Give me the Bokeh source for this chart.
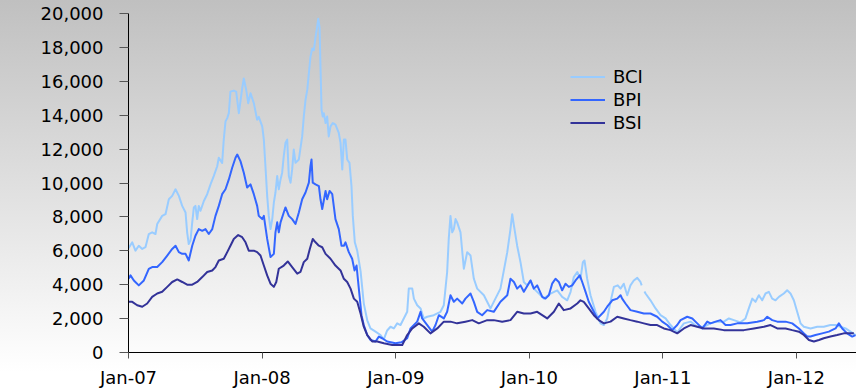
import numpy as np
import pandas as pd
from bokeh.plotting import figure
from bokeh.models import (Range1d, FixedTicker, NumeralTickFormatter, DatetimeTickFormatter,
                          Legend, LegendItem, ColumnDataSource)
from bokeh.embed import file_html
from bokeh.resources import INLINE

# ---------------- data ----------------
series_names = ["BCI", "BPI", "BSI"]

# time as decimal years
bci_year = [2007.000, 2007.028, 2007.052, 2007.077, 2007.103, 2007.127, 2007.152, 2007.177, 2007.202, 2007.215,
            2007.252, 2007.277, 2007.302, 2007.327, 2007.352, 2007.377, 2007.402, 2007.427, 2007.439, 2007.451,
            2007.464, 2007.477, 2007.489, 2007.501, 2007.514, 2007.526, 2007.539, 2007.564, 2007.589, 2007.614,
            2007.638, 2007.664, 2007.676, 2007.701, 2007.713, 2007.726, 2007.739, 2007.751, 2007.763, 2007.788,
            2007.806, 2007.826, 2007.851, 2007.863, 2007.881, 2007.896, 2007.913, 2007.938, 2007.963, 2007.975,
            2008.001, 2008.013, 2008.025, 2008.038, 2008.050, 2008.063, 2008.076, 2008.088, 2008.100, 2008.113,
            2008.125, 2008.138, 2008.150, 2008.162, 2008.175, 2008.188, 2008.200, 2008.213, 2008.225, 2008.237,
            2008.250, 2008.275, 2008.300, 2008.312, 2008.325, 2008.338, 2008.350, 2008.362, 2008.375, 2008.387,
            2008.400, 2008.412, 2008.420, 2008.430, 2008.437, 2008.445, 2008.454, 2008.462, 2008.475, 2008.487,
            2008.499, 2008.512, 2008.529, 2008.549, 2008.574, 2008.587, 2008.600, 2008.612, 2008.624, 2008.637,
            2008.654, 2008.669, 2008.679, 2008.694, 2008.712, 2008.737, 2008.761, 2008.787, 2008.811, 2008.849,
            2008.886, 2008.911, 2008.936, 2008.961, 2008.986, 2009.011, 2009.036, 2009.086, 2009.098, 2009.124,
            2009.136, 2009.161, 2009.186, 2009.210, 2009.236, 2009.285, 2009.335, 2009.360, 2009.385, 2009.397,
            2009.410, 2009.423, 2009.435, 2009.448, 2009.460, 2009.485, 2009.510, 2009.535, 2009.560, 2009.585,
            2009.610, 2009.660, 2009.710, 2009.734, 2009.784, 2009.835, 2009.859, 2009.872, 2009.885, 2009.909,
            2009.934, 2009.959, 2009.984, 2010.009, 2010.034, 2010.072, 2010.109, 2010.159, 2010.209, 2010.246,
            2010.284, 2010.309, 2010.333, 2010.359, 2010.383, 2010.401, 2010.413, 2010.433, 2010.458, 2010.496,
            2010.533, 2010.558, 2010.583, 2010.608, 2010.633, 2010.662, 2010.683, 2010.707, 2010.733, 2010.757,
            2010.782, 2010.808, 2010.832, 2010.841, 2010.851, 2010.862, 2010.870, 2010.907, 2010.945, 2010.982,
            2011.020, 2011.057,
            2011.107, 2011.157, 2011.207, 2011.257, 2011.306, 2011.356, 2011.406, 2011.456, 2011.494, 2011.531,
            2011.581, 2011.618, 2011.643, 2011.669, 2011.693, 2011.718, 2011.743, 2011.768, 2011.793, 2011.818,
            2011.843, 2011.868, 2011.905, 2011.930, 2011.955, 2011.980, 2012.005, 2012.030, 2012.055, 2012.105,
            2012.155, 2012.204, 2012.254, 2012.292, 2012.329, 2012.367, 2012.404, 2012.442]
bci_value = [6150, 6500, 6010, 6300, 6110, 6210, 6990, 7090, 6990, 7580,
             8060, 8160, 9040, 9240, 9630, 9240, 8650, 8260, 7090, 6400,
             6600, 7680, 8560, 8650, 7870, 8650, 8360, 8940, 9340, 9920,
             10410, 10990, 11490, 11190, 12560, 13630, 13830, 14120, 15390, 15450,
             15390, 14120, 15590, 16170, 15490, 14710, 15300, 14710, 13730, 13900,
             13340, 12560, 10990, 9240, 8060, 7280, 7870, 8850, 9440, 10410,
             9630, 10210, 10610, 11580, 12370, 12560, 10410, 10020, 10800, 11970,
             11190, 11390, 12750, 13920, 14900, 15490, 16470, 17440, 17930, 17830,
             18610, 19200, 19690, 19200, 16850, 14320, 13920, 14120, 13540, 13920,
             12750, 13340, 13540, 13440, 12950, 12370, 10800, 12560, 12560, 11390,
             11190, 9820, 8060, 6500, 6000, 4800, 2900, 1900, 1420, 1230,
             1030, 780, 1300, 1520, 1420, 1720, 1620, 2400, 3770, 3770,
             3180, 2790, 2600, 2010, 2110, 2200, 2400, 2790, 4750, 6700,
             8060, 7090, 7280, 7870, 7680, 7090, 4940, 5920, 5720, 4350,
             3770, 3380, 2600, 2990, 3770, 5920, 7280, 8160, 7480, 6300,
             5330, 4160, 3960, 4250, 3770, 3475, 3180, 3475, 3670, 3280,
             3080, 3580, 4450, 4750, 4350, 5330, 5430, 4350, 3380, 2400,
             1720, 1620, 2010, 2990, 3870, 3960, 3770, 4060, 3380, 3960,
             4250, 4400, 4160, 3960, float("nan"), 3600, 3480, 3080, 2600, 2200,
             2010, 1620,
             1180, 1720, 1820, 1520, 1520, 1720, 1820, 1820, 2010, 1910,
             1780, 2010, 2600, 3180, 2990, 3380, 3080, 3480, 3580, 3180,
             3080, 3280, 3480, 3670, 3480, 3080, 2400, 1720, 1520, 1420,
             1520, 1520, 1620, 1620, 1520, 1420, 1230, 1030]

bpi_year = [2007.000, 2007.015, 2007.040, 2007.077, 2007.115, 2007.152, 2007.177, 2007.215, 2007.252, 2007.290,
            2007.327, 2007.352, 2007.377, 2007.402, 2007.427, 2007.451, 2007.477, 2007.501, 2007.526, 2007.552,
            2007.576, 2007.601, 2007.627, 2007.651, 2007.676, 2007.701, 2007.726, 2007.751, 2007.776, 2007.801,
            2007.814, 2007.838, 2007.863, 2007.888, 2007.913, 2007.938, 2007.963, 2007.975, 2008.001, 2008.013,
            2008.038, 2008.063, 2008.088, 2008.100, 2008.113, 2008.125, 2008.138, 2008.162, 2008.175, 2008.200,
            2008.225, 2008.250, 2008.275, 2008.300, 2008.325, 2008.350, 2008.362, 2008.370, 2008.379, 2008.400,
            2008.425, 2008.437, 2008.450, 2008.475, 2008.487, 2008.505, 2008.525, 2008.549, 2008.574, 2008.594,
            2008.612, 2008.624, 2008.649, 2008.674, 2008.692, 2008.707, 2008.724, 2008.744, 2008.761, 2008.787,
            2008.811, 2008.849, 2008.874, 2008.899, 2008.936, 2008.998, 2009.043, 2009.086, 2009.111, 2009.161,
            2009.186, 2009.198, 2009.236, 2009.273, 2009.298, 2009.323, 2009.360, 2009.385, 2009.410, 2009.435,
            2009.460, 2009.498, 2009.522, 2009.560, 2009.585, 2009.610, 2009.647, 2009.685, 2009.734, 2009.784,
            2009.835, 2009.859, 2009.885, 2009.909, 2009.934, 2009.959, 2010.009, 2010.034, 2010.059, 2010.097,
            2010.121, 2010.146, 2010.171, 2010.196, 2010.221, 2010.246, 2010.271, 2010.296, 2010.321, 2010.346,
            2010.378, 2010.396, 2010.421, 2010.445, 2010.483, 2010.508, 2010.533, 2010.558, 2010.583, 2010.621,
            2010.658, 2010.683, 2010.695, 2010.720, 2010.757, 2010.808, 2010.857, 2010.907, 2010.957, 2010.995,
            2011.032, 2011.070, 2011.107, 2011.132, 2011.182, 2011.220, 2011.257, 2011.295, 2011.332, 2011.356,
            2011.394, 2011.431, 2011.469, 2011.506, 2011.556, 2011.631, 2011.706, 2011.756, 2011.781, 2011.818,
            2011.856, 2011.918, 2011.968, 2012.018, 2012.055, 2012.080, 2012.105, 2012.142, 2012.192, 2012.242,
            2012.292, 2012.317, 2012.342, 2012.379, 2012.417, 2012.442]
bpi_value = [4350, 4550, 4250, 3960, 4250, 4940, 5040, 5040, 5330, 5720,
             6110, 6300, 5920, 5820, 5820, 5430, 6300, 6890, 7280, 7180,
             7280, 6990, 7280, 8060, 8650, 9340, 9630, 10210, 10900, 11490,
             11680, 11290, 10610, 9730, 9920, 9340, 8650, 8060, 7870, 8060,
             6700, 5630, 5820, 7090, 7680, 7090, 7680, 8260, 8560, 8060,
             7870, 7580, 8260, 9040, 9440, 10020, 10990, 11390, 10020, 9920,
             9820, 9040, 8460, 9530, 9040, 9530, 9340, 7870, 7280, 6300,
             6300, 6500, 5920, 5530, 4840, 5130, 3770, 2200, 1620, 1030,
             740, 650, 940, 840, 650, 545, 600, 840, 1420, 1820,
             2400, 2010, 1620, 1230, 1620, 2200, 2010, 2400, 3380, 2990,
             3180, 2890, 3180, 3480, 2990, 2400, 2200, 2500, 2400, 2990,
             3380, 4350, 4160, 3770, 3960, 3580, 4250, 3770, 3960, 3280,
             3180, 3380, 4060, 4350, 4160, 3670, 4060, 3870, 3960, 4250,
             4550, 4160, 3580, 2990, 2400, 2010, 2200, 2400, 2700, 3080,
             3180, 3380, 3180, 2890, 2500, 2400, 2300, 2300, 2110, 1820,
             1620, 1320, 1620, 1910, 2110, 2010, 1720, 1420, 1820, 1720,
             1820, 1910, 1620, 1620, 1720, 1720, 1820, 1910, 2110, 1910,
             1820, 1820, 1720, 1420, 1130, 940, 940, 1030, 1130, 1230,
             1420, 1720, 1420, 1130, 940, 1030]

bsi_year = [2007.000, 2007.028, 2007.065, 2007.103, 2007.140, 2007.177, 2007.215, 2007.252, 2007.290, 2007.327,
            2007.365, 2007.402, 2007.439, 2007.477, 2007.514, 2007.552, 2007.589, 2007.627, 2007.651, 2007.676,
            2007.713, 2007.739, 2007.763, 2007.788, 2007.821, 2007.851, 2007.876, 2007.900, 2007.938, 2007.963,
            2007.988, 2008.013, 2008.038, 2008.063, 2008.088, 2008.106, 2008.125, 2008.162, 2008.192, 2008.225,
            2008.263, 2008.287, 2008.312, 2008.338, 2008.357, 2008.379, 2008.400, 2008.425, 2008.450, 2008.475,
            2008.512, 2008.549, 2008.587, 2008.612, 2008.637, 2008.662, 2008.687, 2008.712, 2008.737, 2008.761,
            2008.787, 2008.824, 2008.862, 2008.911, 2008.974, 2009.023, 2009.049, 2009.086, 2009.124, 2009.173,
            2009.210, 2009.260, 2009.311, 2009.360, 2009.410, 2009.460, 2009.522, 2009.573, 2009.622, 2009.685,
            2009.734, 2009.797, 2009.859, 2009.909, 2009.959, 2010.009, 2010.059, 2010.134, 2010.184, 2010.221,
            2010.258, 2010.309, 2010.359, 2010.383, 2010.408, 2010.445, 2010.483, 2010.520, 2010.558, 2010.608,
            2010.658, 2010.707, 2010.757, 2010.808, 2010.857, 2010.907, 2010.957, 2011.007, 2011.057, 2011.107,
            2011.157, 2011.207, 2011.257, 2011.306, 2011.381, 2011.456, 2011.531, 2011.606, 2011.681, 2011.756,
            2011.806, 2011.856, 2011.918, 2011.968, 2012.018, 2012.055, 2012.093, 2012.130, 2012.168, 2012.204,
            2012.254, 2012.304, 2012.354, 2012.392, 2012.429]
bsi_value = [2990, 2990, 2790, 2700, 2890, 3280, 3480, 3580, 3870, 4160,
             4310, 4160, 4000, 4000, 4160, 4450, 4750, 4840, 5040, 5430,
             5530, 5920, 6300, 6700, 6930, 6800, 6500, 6010, 6010, 5920,
             5720, 5130, 4550, 4060, 3870, 4160, 4940, 5130, 5370, 5040,
             4650, 4750, 5330, 5530, 6110, 6700, 6500, 6300, 6210, 5820,
             5530, 5130, 4840, 4350, 4160, 3770, 3180, 2990, 2300, 1520,
             1030, 650, 650, 545, 445, 445, 445, 1030, 1420, 1720,
             1520, 1130, 1420, 1820, 1820, 1720, 1820, 1910, 1720, 1910,
             1910, 1820, 1910, 2400, 2300, 2300, 2400, 2010, 2400, 2890,
             2500, 2600, 2890, 3080, 2990, 2600, 2200, 1910, 1720, 1820,
             2110, 2010, 1910, 1820, 1720, 1620, 1620, 1420, 1320, 1130,
             1420, 1620, 1520, 1420, 1420, 1320, 1320, 1320, 1420, 1520,
             1620, 1420, 1420, 1320, 1230, 1030, 740, 650, 740, 840,
             940, 1030, 1130, 1130, 1130]

y_ticks = [0, 2000, 4000, 6000, 8000, 10000, 12000, 14000, 16000, 18000, 20000]
x_tick_years = [2007, 2008, 2009, 2010, 2011, 2012]
x_start_year = 2007.0
x_end_year = 2012.449

# ---------------- helpers ----------------
BASE = pd.Timestamp("2007-01-01")


def to_dt(years):
    yrs = np.asarray(years, dtype=float)
    return BASE + pd.to_timedelta((yrs - 2007.0) * 365.25, unit="D")


def to_ms(ts):
    return ts.value // 10**6


colors = {"BCI": "#99ccff", "BPI": "#3366ff", "BSI": "#333399"}
FONT = "DejaVu Sans"
FONT_SIZE = "18px"

x_range = Range1d(start=to_ms(to_dt([x_start_year])[0]), end=to_ms(to_dt([x_end_year])[0]))
y_range = Range1d(start=y_ticks[0], end=y_ticks[-1])

p = figure(width=856, height=390, x_axis_type="datetime", output_backend="svg",
           toolbar_location=None, x_range=x_range, y_range=y_range,
           min_border_left=128, min_border_right=0, min_border_top=13, min_border_bottom=36)
p.background_fill_alpha = 0
p.border_fill_alpha = 0
p.outline_line_color = None
p.xgrid.visible = False
p.ygrid.visible = False
p.styles = {"background": "linear-gradient(to bottom, #c0c0c0 0px, #ffffff 372px, #ffffff 390px)"}

renderers = {}
for name, yrs, vals in [("BCI", bci_year, bci_value), ("BPI", bpi_year, bpi_value), ("BSI", bsi_year, bsi_value)]:
    src = ColumnDataSource(dict(x=to_dt(yrs), y=np.asarray(vals, dtype=float)))
    renderers[name] = p.line("x", "y", source=src, line_color=colors[name], line_width=2,
                             line_join="round")

# y axis
yax = p.yaxis[0]
yax.ticker = FixedTicker(ticks=y_ticks)
yax.formatter = NumeralTickFormatter(format="0,0")
yax.axis_line_color = "black"
yax.axis_line_width = 1
yax.major_tick_in = 0
yax.major_tick_out = 9
yax.major_tick_line_color = "#555555"
yax.minor_tick_line_color = None
yax.major_label_standoff = 16
yax.major_label_text_font = FONT
yax.major_label_text_font_size = FONT_SIZE
yax.major_label_text_color = "black"

# x axis
xax = p.xaxis[0]
xax.ticker = FixedTicker(ticks=[to_ms(pd.Timestamp(f"{y}-01-01")) for y in x_tick_years])
xax.formatter = DatetimeTickFormatter(years="%b-%y", months="%b-%y", days="%b-%y",
                                      hours="%b-%y", minutes="%b-%y", seconds="%b-%y",
                                      milliseconds="%b-%y", microseconds="%b-%y")
xax.axis_line_color = "black"
xax.axis_line_width = 1
xax.major_tick_in = 0
xax.major_tick_out = 6
xax.major_tick_line_color = "#555555"
xax.minor_tick_line_color = None
xax.major_label_standoff = 8
xax.major_label_text_font = FONT
xax.major_label_text_font_size = FONT_SIZE
xax.major_label_text_color = "black"

legend = Legend(items=[LegendItem(label=n, renderers=[renderers[n]]) for n in series_names],
                location=(442, 219), orientation="vertical")
legend.padding = 0
legend.margin = 0
legend.spacing = 2
legend.glyph_width = 35
legend.glyph_height = 21
legend.label_height = 21
legend.label_standoff = 8
legend.label_text_font = FONT
legend.label_text_font_size = FONT_SIZE
legend.label_text_color = "black"
legend.background_fill_alpha = 0
legend.border_line_alpha = 0
p.add_layout(legend)

open("out.html", "w").write(file_html(p, INLINE))
